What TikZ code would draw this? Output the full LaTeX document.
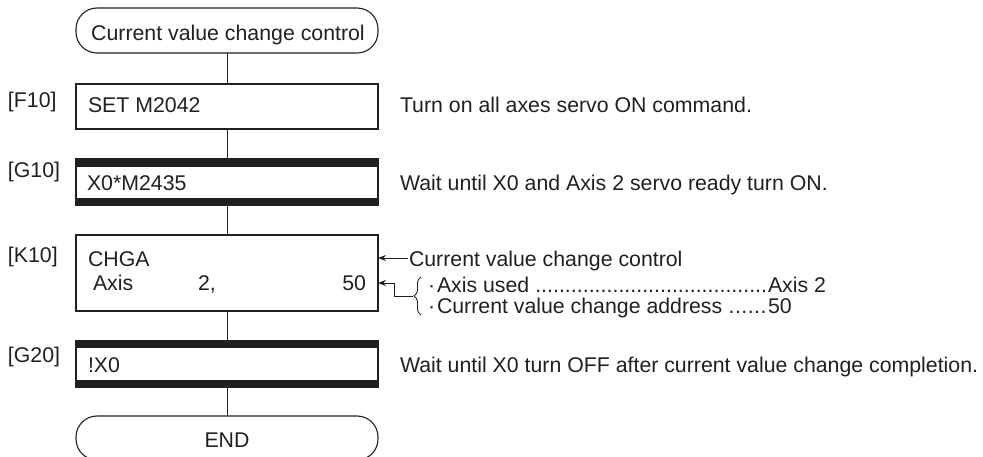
\documentclass[tikz,border=0pt]{standalone}
\usepackage{fontspec}
\setmainfont{Liberation Sans}
\usetikzlibrary{arrows.meta,decorations.pathreplacing}
\definecolor{ink}{HTML}{231F20}
\begin{document}
\begin{tikzpicture}[x=1pt,y=-1pt,
  every node/.style={inner sep=0pt, outer sep=0pt, text=ink},
  txt/.style={font=\fontsize{21.3}{25}\selectfont, anchor=base west},
  box/.style={draw=ink, line width=1.1pt, rectangle, minimum width=302pt},
  term/.style={draw=ink, line width=1.1pt, rectangle, rounded corners=21pt, minimum width=302pt},
  link/.style={draw=ink, line width=1pt},
  arr/.style={draw=ink, line width=1pt, -{Stealth[length=8pt,width=6pt]}},
  bar/.style={fill=ink}]
\useasboundingbox (0,0) rectangle (983,456);

% flow boxes
\node[term, minimum height=45pt] (start) at (227,30.5) {};
\node[txt, anchor=base] (startt) at (228,40) {Current value change control};

\node[box, minimum height=45pt] (f10) at (227,106.5) {};
\node[txt] (f10t) at (88,112) {SET M2042};

\node[box, minimum height=46pt] (g10) at (227,182) {};
\fill[bar] (g10.north west) rectangle ([yshift=-8pt]g10.north east);
\fill[bar] ([yshift=7pt]g10.south west) rectangle (g10.south east);
\node[txt] (g10t) at (87,190) {X0*M2435};

\node[box, minimum height=76pt] (k10) at (227,273) {};
\node[txt] (k10a) at (88,266) {CHGA};
\node[txt] (k10b) at (93,290) {Axis};
\node[txt] (k10c) at (198,290) {2,};
\node[txt, anchor=base east] (k10d) at (366,290) {50};

\node[box, minimum height=46pt] (g20) at (227,364) {};
\fill[bar] (g20.north west) rectangle ([yshift=-7pt]g20.north east);
\fill[bar] ([yshift=7pt]g20.south west) rectangle (g20.south east);
\node[txt] (g20t) at (88,372) {!X0};

\node[term, minimum height=44pt] (endt) at (227,438) {};
\node[txt, anchor=base] (endtt) at (227,447) {END};

% connectors
\draw[link] (start) -- (f10);
\draw[link] (f10) -- (g10);
\draw[link] (g10) -- (k10);
\draw[link] (k10) -- (g20);
\draw[link] (g20) -- (endt);

% step labels
\node[txt] (lf10) at (8,107) {[F10]};
\node[txt] (lg10) at (8,177) {[G10]};
\node[txt] (lk10) at (8,262) {[K10]};
\node[txt] (lg20) at (8,362) {[G20]};

% comments
\node[txt] (cf10) at (400,112) {Turn on all axes servo ON command.};
\node[txt] (cg10) at (400,190) {Wait until X0 and Axis 2 servo ready turn ON.};
\node[txt] (cg20) at (400,372) {Wait until X0 turn OFF after current value change completion.};

% K10 annotations
\coordinate (a1) at (408,258);
\draw[arr] (a1) -- (k10.east |- a1);
\node[txt] (ck1) at (409,266) {Current value change control};

\draw[ink, line width=0.9pt, decorate, decoration={brace, amplitude=7pt}] (421,315) -- (421,277);
\coordinate (bt) at (413,296);
\coordinate (a2) at (379,283);
\draw[arr] (bt) -- (394,296) -- (394,283) -- (k10.east |- a2);

\node[txt] (d1) at (428,292) {·};
\node[txt] (ax1) at (437,292) {\hbox to 330pt{Axis used \xleaders\hbox{.}\hfill}};
\node[txt] (ax2) at (768,292) {Axis 2};
\node[txt] (d2) at (428,313) {·};
\node[txt] (ad1) at (437,313) {\hbox to 330pt{Current value change address \xleaders\hbox{.}\hfill}};
\node[txt] (ad2) at (768,313) {50};
\end{tikzpicture}
\end{document}
